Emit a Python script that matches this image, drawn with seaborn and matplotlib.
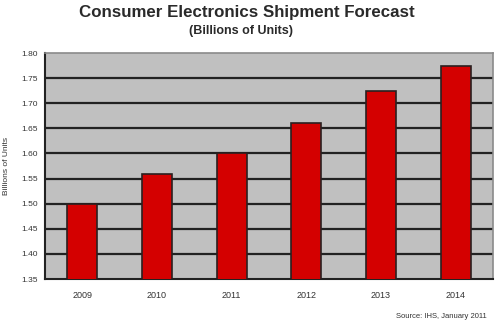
import matplotlib
matplotlib.use("Agg")
import matplotlib.pyplot as plt
import seaborn as sns
import numpy as np
import pandas as pd

years = ["2009", "2010", "2011", "2012", "2013", "2014"]
shipments = [1.50, 1.56, 1.60, 1.66, 1.725, 1.775]
y_ticks = [1.35, 1.40, 1.45, 1.50, 1.55, 1.60, 1.65, 1.70, 1.75, 1.80]

sns.set_theme(style="white")
plt.rcParams["font.family"] = ["Liberation Sans", "DejaVu Sans"]

df = pd.DataFrame({"year": years, "units": shipments})

fig = plt.figure(figsize=(5.0, 3.23), dpi=100)
ax = fig.add_axes([45 / 500, 1 - 279 / 323, 448 / 500, 226 / 323])
ax.set_facecolor("#C0C0C0")

sns.barplot(data=df, x="year", y="units", color="#D40000", width=0.4,
            edgecolor="#2a2020", linewidth=1.2, saturation=1, ax=ax, zorder=3)

ax.set_ylim(1.35, 1.80)
ax.set_xlim(-0.5, 5.5)
ax.set_yticks(y_ticks)
ax.set_yticklabels([f"{t:.2f}" for t in y_ticks], fontsize=6, color="#333333")
for t in y_ticks[1:-1]:
    ax.axhline(t, color="#222222", linewidth=1.6, zorder=2)

ax.set_xticks(np.arange(len(years)))
ax.set_xticklabels(years, fontsize=6.5, color="#333333")
ax.tick_params(axis="x", length=0, pad=9)
ax.set_xticks(np.arange(-0.5, len(years), 1.0), minor=True)
ax.tick_params(axis="x", which="minor", length=3, width=1, color="#222222", direction="out")
ax.tick_params(axis="y", length=3, width=1, color="#222222", direction="out", pad=2)

ax.set_xlabel("")
ax.set_ylabel("Billions of Units", fontsize=6, labelpad=8, color="#333333")

for side in ["left", "bottom"]:
    ax.spines[side].set_color("#222222")
    ax.spines[side].set_linewidth(1.5)
for side in ["top", "right"]:
    ax.spines[side].set_color("#8a8a8a")
    ax.spines[side].set_linewidth(1.2)
    ax.spines[side].set_visible(True)

fig.text(0.494, 1 - 13 / 323, "Consumer Electronics Shipment Forecast",
         ha="center", va="center", fontsize=12.2, fontweight="bold", color="#2a2a2a")
fig.text(0.482, 1 - 31 / 323, "(Billions of Units)",
         ha="center", va="center", fontsize=9, fontweight="bold", color="#2a2a2a")
fig.text(487 / 500, 1 - 317 / 323, "Source: IHS, January 2011",
         ha="right", va="center", fontsize=5.5, color="#333333")

fig.savefig("out.png", dpi=100, facecolor="white")
